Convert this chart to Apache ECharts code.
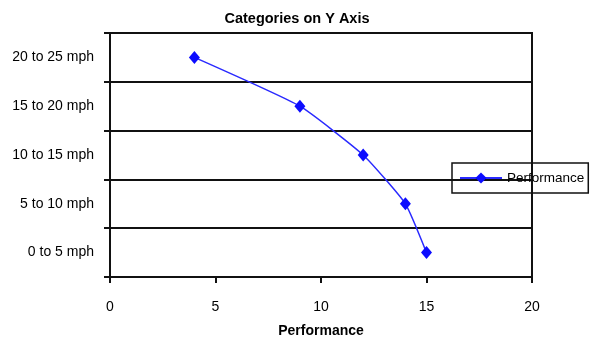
<!DOCTYPE html>
<html>
<head>
<meta charset="utf-8">
<script src="https://cdn.jsdelivr.net/npm/echarts@6/dist/echarts.min.js"></script>
<style>
  html, body { margin: 0; padding: 0; background: #fff; }
  #main { width: 594px; height: 345px; }
</style>
</head>
<body>
<div id="main"></div>
<script>
// speed bands on the category axis, bottom to top
var categories = ['0 to 5 mph', '5 to 10 mph', '10 to 15 mph', '15 to 20 mph', '20 to 25 mph']
var performance = [15, 14, 12, 9, 4]
var xTicks = [0, 5, 10, 15, 20]

var chart = echarts.init(document.getElementById('main'))

var option = {
  backgroundColor: '#fff',
  textStyle: { fontFamily: 'Liberation Sans, Arial, sans-serif' },
  title: {
    text: 'Categories on Y Axis',
    left: 292,
    textAlign: 'center',
    top: 6,
    textStyle: { fontSize: 14.5, fontWeight: 'bold', color: '#000' }
  },
  legend: {
    data: ['Performance'],
    left: 452,
    top: 163,
    orient: 'vertical',
    borderColor: '#111',
    borderWidth: 1.5,
    padding: [8, 4, 8, 7],
    itemWidth: 42,
    itemHeight: 14,
    itemGap: 5,
    textStyle: { fontSize: 13.5, color: '#000' }
  },
  grid: {
    left: 110,
    right: 62,
    top: 33,
    bottom: 68,
    show: true,
    borderColor: '#111',
    borderWidth: 2
  },
  xAxis: {
    type: 'value',
    min: xTicks[0],
    max: xTicks[xTicks.length - 1],
    interval: 5,
    name: 'Performance',
    nameLocation: 'middle',
    nameGap: 47,
    nameTextStyle: { fontSize: 14, fontWeight: 'bold', color: '#000' },
    axisLine: { show: true, lineStyle: { color: '#111', width: 2 } },
    axisTick: { show: true, length: 6, lineStyle: { color: '#111', width: 2 } },
    axisLabel: { fontSize: 14, color: '#000', margin: 23 },
    splitLine: { show: false }
  },
  yAxis: {
    type: 'category',
    data: categories,
    boundaryGap: true,
    axisLine: { show: true, lineStyle: { color: '#111', width: 2 } },
    axisTick: { show: true, length: 6, lineStyle: { color: '#111', width: 2 } },
    axisLabel: { fontSize: 14, color: '#000', margin: 16 },
    splitLine: { show: true, lineStyle: { color: '#111', width: 2 } }
  },
  series: [{
    name: 'Performance',
    type: 'line',
    data: performance,
    smooth: 0.15,
    symbol: 'diamond',
    symbolSize: [11, 13],
    itemStyle: { color: '#0c0cff' },
    lineStyle: { color: '#2a2aff', width: 1.5 }
  }]
}

chart.setOption(option)
</script>
</body>
</html>
